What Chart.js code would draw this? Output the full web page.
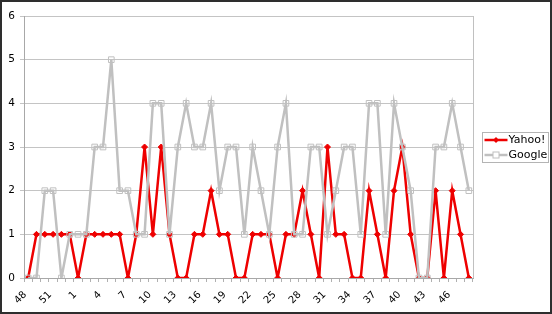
<!DOCTYPE html>
<html>
<head>
<meta charset="utf-8">
<script src="https://cdn.jsdelivr.net/npm/chart.js@4"></script>
<style>
  html, body { margin: 0; padding: 0; background: #fff; }
  #wrap { position: relative; width: 552px; height: 314px; }
  #frame { position: absolute; left: 0; top: 0; width: 552px; height: 314px; box-sizing: border-box; border: 2px solid #2e2e2e; pointer-events: none; }
  canvas { position: absolute; left: 0; top: 0; }
</style>
</head>
<body>
<div id="wrap">
  <canvas id="c" width="552" height="314"></canvas>
  <div id="frame"></div>
</div>
<script>
// Week numbers (categories)
const weeks = ['48','49','50','51','52','53','1','2','3','4','5','6','7','8','9','10','11','12','13','14','15','16','17','18','19','20','21','22','23','24','25','26','27','28','29','30','31','32','33','34','35','36','37','38','39','40','41','42','43','44','45','46','47','48'];
// Series values
const yahoo = [0,1,1,1,1,1,0,1,1,1,1,1,0,1,3,1,3,1,0,0,1,
               1,2,1,1,0,0,1,1,1,0,1,1,2,1,0,3,1,
               1,0,0,2,1,0,2,3,1,0,0,2,0,2,1,0];
const google = [0,0,2,2,0,1,1,1,3,3,5,2,2,1,1,4,4,1,3,4,3,
                3,4,2,3,3,1,3,2,1,3,4,1,1,3,3,1,2,
                3,3,1,4,4,1,4,3,2,0,0,3,3,4,3,2];
const seriesNames = ['Yahoo!', 'Google'];
const yTicks = [0,1,2,3,4,5,6];

const RED = '#ee0000';
const GRAY = '#c0c0c0';
const FONT = 'DejaVu Sans';

const extras = {
  id: 'extras',
  afterDatasetsDraw(chart) {
    const ctx = chart.ctx;
    const a = chart.chartArea;
    ctx.save();
    // plot area right border
    ctx.strokeStyle = '#c0c0c0';
    ctx.lineWidth = 1;
    ctx.beginPath();
    ctx.moveTo(Math.round(a.right) + 0.5, a.top);
    ctx.lineTo(Math.round(a.right) + 0.5, a.bottom);
    ctx.stroke();

    // legend
    const lx = Math.round(a.right) + 9.5, ly = 132.5, lw = 66, lh = 30;
    ctx.strokeStyle = '#b4b4b4';
    ctx.lineWidth = 1;
    ctx.strokeRect(lx, ly, lw, lh);
    const rows = [
      { name: seriesNames[0], color: RED, style: 'rectRot', y: ly + 7.5 },
      { name: seriesNames[1], color: GRAY, style: 'rect', y: ly + 22.5 }
    ];
    rows.forEach(r => {
      ctx.strokeStyle = r.color;
      ctx.lineWidth = 2.5;
      ctx.beginPath();
      ctx.moveTo(lx + 2, r.y);
      ctx.lineTo(lx + 25, r.y);
      ctx.stroke();
      const cx = lx + 13.5;
      if (r.style === 'rectRot') {
        ctx.fillStyle = r.color;
        ctx.beginPath();
        ctx.moveTo(cx, r.y - 3); ctx.lineTo(cx + 3, r.y); ctx.lineTo(cx, r.y + 3); ctx.lineTo(cx - 3, r.y); ctx.closePath();
        ctx.fill();
      } else {
        ctx.fillStyle = '#fff';
        ctx.fillRect(cx - 3, r.y - 3, 6, 6);
        ctx.lineWidth = 1;
        ctx.strokeRect(cx - 3, r.y - 3, 6, 6);
      }
      ctx.fillStyle = '#000';
      ctx.font = '11px "' + FONT + '"';
      ctx.textAlign = 'left';
      ctx.textBaseline = 'middle';
      ctx.fillText(r.name, lx + 26, r.y + 0.5);
    });
    ctx.restore();
  }
};

new Chart(document.getElementById('c'), {
  type: 'line',
  data: {
    labels: weeks,
    datasets: [
      {
        label: seriesNames[0], data: yahoo, order: 1,
        borderColor: RED, backgroundColor: RED, borderWidth: 2.5,
        pointStyle: 'rectRot', pointRadius: 3, pointBackgroundColor: RED, pointBorderColor: RED, pointBorderWidth: 1,
        tension: 0, fill: false
      },
      {
        label: seriesNames[1], data: google, order: 0,
        borderColor: GRAY, backgroundColor: GRAY, borderWidth: 2.5,
        pointStyle: 'rect', pointRadius: 4, pointBackgroundColor: 'rgba(255,255,255,0)', pointBorderColor: GRAY, pointBorderWidth: 1,
        tension: 0, fill: false
      }
    ]
  },
  options: {
    responsive: false,
    animation: false,
    devicePixelRatio: 1,
    layout: { padding: { top: 16, right: 79, bottom: 0, left: 0 } },
    plugins: { legend: { display: false }, tooltip: { enabled: false } },
    scales: {
      x: {
        type: 'category',
        offset: true,
        grid: { offset: true, drawOnChartArea: false, drawTicks: true, tickLength: 4, color: '#b0b0b0' },
        border: { color: '#a8a8a8' },
        ticks: {
          autoSkip: false, minRotation: 45, maxRotation: 45, padding: 7, labelOffset: -3,
          color: '#000', font: { family: FONT, size: 10 },
          callback: (v, i) => (i % 3 === 0 ? weeks[i] : '')
        },
        afterFit: s => { s.height = 36; }
      },
      y: {
        min: yTicks[0], max: yTicks[yTicks.length - 1],
        grid: { color: '#c4c4c4', tickLength: 4 },
        border: { color: '#a8a8a8' },
        ticks: { stepSize: 1, padding: 5, color: '#000', font: { family: FONT, size: 10.5 } },
        afterFit: s => { s.width = 24; }
      }
    }
  },
  plugins: [extras]
});
</script>
</body>
</html>
